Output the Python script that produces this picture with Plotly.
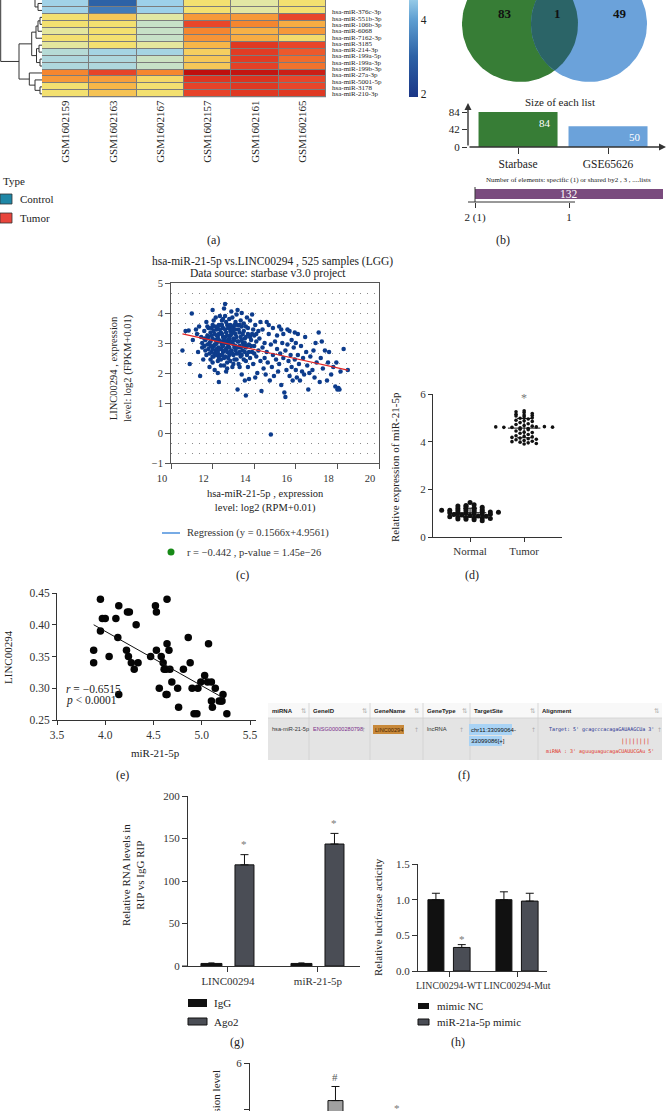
import numpy as np
import plotly.graph_objects as go

W, H = 670, 1111
SERIF = "Liberation Serif, Times New Roman, serif"
SANS = "Liberation Sans, Arial, sans-serif"
MONO = "DejaVu Sans Mono, monospace"
INK = "#222222"

# ======================= DATA =======================
# (a) heatmap
heat_samples = ["GSM1602159", "GSM1602163", "GSM1602167",
                "GSM1602157", "GSM1602161", "GSM1602165"]
heat_mirnas = ["hsa-miR-376c-3p", "hsa-miR-551b-3p", "hsa-miR-106b-3p",
               "hsa-miR-6068", "hsa-miR-7162-3p", "hsa-miR-3185",
               "hsa-miR-214-3p", "hsa-miR-199a-5p", "hsa-miR-199a-3p",
               "hsa-miR-199b-3p", "hsa-miR-27a-3p", "hsa-miR-5001-5p",
               "hsa-miR-3178", "hsa-miR-210-3p"]
heat_values = [
    [4.7, 3.0, 4.6, 7.0, 6.3, 7.0],
    [4.7, 3.4, 4.6, 7.0, 6.3, 7.0],
    [7.0, 7.6, 6.3, 8.6, 8.6, 10.0],
    [7.0, 7.0, 5.6, 10.0, 9.0, 8.2],
    [6.4, 7.0, 5.6, 9.0, 8.1, 8.6],
    [7.0, 7.0, 5.6, 8.7, 8.2, 7.1],
    [6.4, 7.0, 6.4, 8.0, 10.5, 10.0],
    [5.2, 4.8, 4.8, 7.4, 10.4, 9.7],
    [5.0, 5.0, 5.7, 7.6, 10.4, 9.4],
    [5.0, 5.0, 5.6, 7.6, 10.2, 9.3],
    [9.0, 10.1, 9.0, 11.9, 11.7, 11.4],
    [8.6, 8.5, 7.2, 10.6, 10.7, 10.0],
    [7.0, 8.0, 7.0, 10.1, 10.5, 10.0],
    [7.0, 7.7, 7.0, 10.1, 10.5, 10.5],
]
heat_scale_values = [1.9, 2.0, 3.0, 4.0, 4.6, 5.5, 6.3, 7.0, 8.0, 9.0, 10.0, 11.0, 12.0]
heat_scale_colors = ["#1a3686", "#1c3a8a", "#2d62a6", "#5f9fd2", "#9dd0ea", "#c3e0cc",
                     "#e2e7a4", "#f3e070", "#f7b648", "#f5862f", "#e8462a", "#d62c1c", "#bb0c0c"]
# row clustering: (child a, child b, merge height); leaves 0..13 = rows, 14 = cluster above view
dendro_merges = [
    (0, 1, 4), (2, 3, 2), (16, 4, 4), (17, 5, 6), (6, 7, 3), (8, 9, 2),
    (19, 20, 5.5), (18, 21, 10.3), (12, 13, 2), (11, 23, 7), (10, 24, 12.7),
    (22, 25, 23), (14, 15, 7), (27, 26, 41.3),
]
type_labels = ["Control", "Tumor"]
type_colors = ["#1f87a6", "#e8453c"]

# (b) venn
venn_sets = ["Starbase", "GSE65626"]
venn_counts = [83, 1, 49]          # only A, shared, only B
list_sizes = [84, 50]
shared_total = 132
shared_labels = ["2 (1)", "1"]

# (c) starbase scatter
c_pts = [
    (10.55, 2.75), (10.7, 3.4), (10.85, 3.42), (11.0, 3.98), (10.9, 2.3), (11.05, 3.1), (11.2, 3.45),
    (11.25, 3.3), (11.3, 2.7), (11.4, 1.9), (11.35, 3.55), (11.45, 3.2), (11.5, 2.85), (11.55, 2.45),
    (11.5, 3.0), (11.6, 3.4), (11.6, 2.9), (11.65, 3.1), (11.7, 2.6), (11.7, 3.7), (11.75, 3.25),
    (11.8, 2.8), (11.8, 3.5), (11.85, 3.0), (11.9, 2.45), (11.9, 3.35), (11.95, 2.7), (12.0, 3.15),
    (12.0, 3.6), (12.0, 4.1), (12.05, 2.9), (12.05, 2.55), (12.1, 3.3), (12.1, 2.1), (12.15, 2.75),
    (12.15, 3.85), (12.2, 3.0), (12.2, 3.45), (12.25, 2.4), (12.25, 3.2), (12.3, 1.7), (12.3, 2.85),
    (12.3, 3.6), (12.35, 2.6), (12.35, 3.05), (12.4, 3.35), (12.4, 2.25), (12.45, 3.75), (12.45, 2.95),
    (12.5, 2.7), (12.5, 3.2), (12.5, 3.5), (12.55, 4.15), (12.6, 4.3), (12.55, 2.5), (12.6, 3.0),
    (12.6, 3.9), (12.65, 2.8), (12.65, 3.35), (12.7, 3.6), (12.7, 2.35), (12.75, 3.1), (12.75, 2.95),
    (12.8, 3.8), (12.8, 2.6), (12.85, 3.4), (12.85, 3.25), (12.9, 2.75), (12.9, 4.05), (12.95, 3.0),
    (12.95, 2.2), (13.0, 3.55), (13.0, 3.15), (13.05, 2.45), (13.05, 2.85), (13.1, 3.7), (13.1, 3.3),
    (13.15, 2.65), (13.15, 3.95), (13.2, 1.45), (13.2, 3.05), (13.2, 4.1), (13.25, 2.3), (13.25, 3.45),
    (13.3, 2.9), (13.3, 3.6), (13.35, 2.55), (13.35, 3.2), (13.4, 4.0), (13.4, 1.95), (13.45, 3.0),
    (13.45, 2.75), (13.5, 3.4), (13.5, 2.45), (13.55, 1.75), (13.55, 3.15), (13.6, 1.25), (13.6, 2.85),
    (13.6, 3.55), (13.65, 2.6), (13.7, 3.3), (13.7, 2.2), (13.75, 1.8), (13.75, 2.95), (13.8, 3.75),
    (13.8, 2.5), (13.85, 3.1), (13.9, 3.95), (13.9, 2.7), (13.95, 3.45), (13.95, 2.3), (14.0, 2.9),
    (14.0, 3.25), (14.05, 1.85), (14.05, 3.6), (14.1, 2.55), (14.1, 3.05), (14.15, 2.0), (14.2, 2.75),
    (14.2, 3.4), (11.9, 3.05), (12.1, 2.95), (12.2, 2.6), (12.4, 2.8), (12.6, 3.2), (12.9, 3.5),
    (13.0, 2.6), (12.3, 3.3), (12.0, 2.35), (11.75, 2.95), (12.5, 3.05), (12.7, 2.85), (13.3, 2.7),
    (13.1, 2.9), (12.85, 2.4), (12.45, 3.6), (12.15, 3.1), (11.95, 3.5), (12.35, 3.9), (12.8, 3.0),
    (13.55, 3.0), (13.8, 3.2), (12.05, 3.75), (12.55, 2.25), (13.4, 3.55), (12.25, 2.0), (11.85, 2.2),
    (13.65, 3.85), (12.95, 3.85), (12.65, 2.05), (11.65, 2.75), (11.7, 3.15), (11.8, 3.2), (11.85, 2.65),
    (11.9, 2.9), (11.95, 3.25), (12.0, 2.8), (12.05, 3.4), (12.1, 2.65), (12.1, 3.55), (12.15, 2.95),
    (12.2, 3.25), (12.2, 2.8), (12.25, 3.55), (12.25, 2.7), (12.3, 3.1), (12.3, 2.5), (12.35, 3.45),
    (12.35, 2.8), (12.4, 3.05), (12.4, 3.6), (12.45, 2.6), (12.45, 3.3), (12.5, 2.9), (12.5, 3.8),
    (12.55, 3.15), (12.55, 2.75), (12.6, 3.45), (12.6, 2.55), (12.65, 3.05), (12.65, 3.7), (12.7, 2.7),
    (12.7, 3.25), (12.75, 3.5), (12.75, 2.5), (12.8, 3.15), (12.8, 2.85), (12.85, 3.6), (12.85, 2.7),
    (12.9, 3.05), (12.9, 3.3), (12.95, 2.65), (12.95, 3.45), (13.0, 2.95), (13.0, 3.35), (13.05, 3.6),
    (13.05, 3.1), (13.1, 2.75), (13.1, 3.45), (13.15, 3.2), (13.15, 2.45), (13.2, 2.85), (13.2, 3.6),
    (13.25, 3.05), (13.25, 2.65), (13.3, 3.35), (13.35, 2.85), (13.35, 3.75), (13.4, 3.1), (13.4, 2.6),
    (13.45, 3.3), (13.5, 2.9), (13.5, 3.65), (13.55, 2.7), (13.6, 3.2), (13.65, 2.9), (13.7, 3.5),
    (13.75, 2.7), (13.85, 2.9), (13.9, 3.3), (14.0, 2.65), (14.1, 3.3), (11.75, 3.55), (11.6, 3.15),
    (12.0, 2.55), (12.4, 2.45), (12.7, 2.15), (13.0, 2.3), (13.3, 2.2), (13.6, 2.4),
    (14.25, 3.15), (14.3, 2.4), (14.3, 3.7), (14.35, 1.4), (14.4, 2.85), (14.45, 2.15), (14.5, 3.0),
    (14.5, 2.5), (14.55, 1.95), (14.6, 3.7), (14.6, 2.7), (14.65, 2.35), (14.7, 3.3), (14.75, 1.75),
    (14.8, 2.95), (14.8, -0.05), (14.85, 2.2), (14.9, 3.5), (14.9, 2.6), (14.95, 1.9), (15.0, 3.05),
    (15.05, 2.45), (15.1, 3.25), (15.1, 2.8), (15.15, 2.05), (15.2, 3.55), (15.2, 2.3), (15.25, 2.65),
    (15.3, 1.6), (15.35, 3.0), (15.4, 2.5), (15.4, 3.3), (15.45, 1.35), (15.5, 1.2), (15.5, 2.75),
    (15.55, 2.1), (15.6, 3.45), (15.6, 2.95), (15.65, 2.4), (15.7, 3.4), (15.7, 1.9), (15.75, 2.6),
    (15.8, 2.2), (15.8, 3.1), (15.85, 1.75), (15.9, 2.85), (15.95, 2.45), (16.0, 3.0), (16.0, 2.1),
    (16.05, 1.85), (16.1, 3.3), (16.1, 2.6), (16.15, 2.3), (16.2, 1.75), (16.25, 2.9), (16.3, 2.05),
    (16.35, 2.5), (16.4, 1.95), (16.5, 2.7), (16.55, 2.25), (16.6, 1.45), (16.65, 2.0), (16.7, 2.55),
    (16.8, 2.1), (16.85, 2.75), (16.9, 1.85), (17.0, 2.35), (17.1, 3.35), (17.15, 1.7), (17.2, 2.5),
    (17.25, 3.05), (17.3, 2.15), (17.4, 2.75), (17.5, 1.75), (17.55, 2.35), (17.6, 2.7), (17.8, 2.2),
    (17.9, 1.55), (17.95, 2.35), (18.0, 1.45), (18.05, 1.5), (18.1, 1.45), (18.15, 2.05), (18.3, 2.8),
    (18.5, 2.1), (17.7, 1.95), (16.95, 3.0), (16.45, 3.2), (15.95, 3.35), (14.7, 3.6), (14.4, 3.45),
    (15.3, 3.45),
]
c_x = [p[0] for p in c_pts]
c_y = [p[1] for p in c_pts]
c_line_slope = -0.152        # red fit line as drawn
c_line_intercept = 4.91
c_title = ["hsa-miR-21-5p vs.LINC00294 , 525 samples (LGG)", "Data source: starbase v3.0 project"]
c_legend = ["Regression (y = 0.1566x+4.9561)", "r = \u22120.442 , p-value = 1.45e\u221226"]

# (d) relative expression
d_groups = ["Normal", "Tumor"]
d_normal = [1.45, 1.32, 1.30, 1.28, 1.22, 1.20, 1.18, 1.15, 1.14, 1.12, 1.12, 1.10, 1.10, 1.08,
            1.07, 1.05, 1.04, 1.02, 1.01, 1.00, 0.98, 0.97, 0.95, 0.94, 0.92, 0.90, 0.88, 0.87,
            0.85, 0.84, 0.82, 0.80, 0.80, 0.78, 0.76, 0.74, 0.72, 0.68, 1.35, 1.25]
d_tumor = [5.30, 5.25, 5.22, 5.18, 5.15, 5.12, 5.10, 5.08, 5.05, 5.00, 4.98, 4.95, 4.90, 4.88,
           4.85, 4.80, 4.75, 4.72, 4.68, 4.65, 4.62, 4.60, 4.60, 4.58, 4.55, 4.52, 4.50, 4.45,
           4.40, 4.38, 4.35, 4.30, 4.25, 4.22, 4.20, 4.18, 4.15, 4.12, 4.10, 4.08, 4.05, 4.02,
           4.00, 3.98, 3.95, 3.92, 3.90, 4.62, 4.63, 4.61]

# (e) correlation
e_pts = [
    (3.95, 0.44), (3.97, 0.41), (4.0, 0.41), (3.95, 0.39), (3.88, 0.36), (3.88, 0.34), (4.04, 0.35),
    (4.11, 0.41), (4.14, 0.43), (4.13, 0.38), (4.14, 0.29), (4.23, 0.42), (4.25, 0.42), (4.22, 0.36),
    (4.24, 0.35), (4.27, 0.34), (4.30, 0.33), (4.32, 0.40), (4.34, 0.34), (4.47, 0.35), (4.52, 0.43),
    (4.53, 0.42), (4.53, 0.36), (4.56, 0.30), (4.58, 0.35), (4.60, 0.34), (4.61, 0.33), (4.63, 0.33),
    (4.63, 0.29), (4.64, 0.29), (4.64, 0.44), (4.64, 0.37), (4.66, 0.36), (4.67, 0.33), (4.69, 0.31),
    (4.75, 0.30), (4.76, 0.27), (4.81, 0.33), (4.86, 0.38), (4.88, 0.34), (4.90, 0.30), (4.92, 0.26),
    (4.95, 0.26), (4.96, 0.30), (4.99, 0.31), (5.03, 0.32), (5.06, 0.31), (5.07, 0.37), (5.10, 0.31),
    (5.10, 0.28), (5.11, 0.27), (5.14, 0.30), (5.18, 0.28), (5.20, 0.28), (5.21, 0.28), (5.22, 0.29),
    (5.26, 0.26),
]
e_x = [p[0] for p in e_pts]
e_y = [p[1] for p in e_pts]
e_line_slope = -0.0858
e_line_intercept = 0.7329
e_line_x = [3.88, 5.22]
e_stats = ["<i>r</i> = \u22120.6515", "<i>p</i> &lt; 0.0001"]

# (f) table
table_cols = ["miRNA", "GeneID", "GeneName", "GeneType", "TargetSite", "Alignment"]
table_row = ["hsa-miR-21-5p", "ENSG00000280798", "LINC00294", "lncRNA",
             "chr11:33099064-", "33099086[+]"]
align_target = "Target: 5' gcagcccacagaGAUAAGCUa 3'"
align_pairs = "||||||||"
align_mirna = "miRNA : 3' aguuguagucagaCUAUUCGAu 5'"

# (g) RIP
g_cats = ["LINC00294", "miR-21-5p"]
g_igg = [3.0, 3.0]
g_igg_err = [0.6, 0.6]
g_ago2 = [119.0, 143.5]
g_ago2_err = [12.0, 12.5]
g_series = ["IgG", "Ago2"]

# (h) luciferase
h_cats = ["LINC00294-WT", "LINC00294-Mut"]
h_nc = [1.0, 1.0]
h_nc_err = [0.09, 0.11]
h_mimic = [0.33, 0.98]
h_mimic_err = [0.04, 0.11]
h_series = ["mimic NC", "miR-21a-5p mimic"]

# (i) partial panel
i_val = [4.4]
i_err = [0.6]

# ======================= HELPERS =======================
shapes, annots, axes = [], [], {}
TF = dict(family=SERIF, size=11, color="#333")


def xd(a, b):
    return [a / W, b / W]


def yd(top, bot):
    return [1 - bot / H, 1 - top / H]


def txt(x, y, s, size=11, color=INK, family=SERIF, xa="center", ya="middle", angle=0, **kw):
    a = dict(x=x / W, y=1 - y / H, xref="paper", yref="paper", text=s, showarrow=False,
             font=dict(size=size, color=color, family=family), xanchor=xa, yanchor=ya,
             textangle=angle, borderpad=0)
    a.update(kw)
    annots.append(a)


def rect(x0, y0, x1, y1, fill, lc=None, lw=0, layer="above"):
    shapes.append(dict(type="rect", xref="paper", yref="paper", x0=x0 / W, x1=x1 / W,
                       y0=1 - y0 / H, y1=1 - y1 / H, fillcolor=fill,
                       line=dict(width=lw, color=lc or fill), layer=layer))


def seg(x0, y0, x1, y1, color="#333", lw=1):
    shapes.append(dict(type="line", xref="paper", yref="paper", x0=x0 / W, x1=x1 / W,
                       y0=1 - y0 / H, y1=1 - y1 / H, line=dict(color=color, width=lw)))


def add_axes(n, xdom, ydom, xkw, ykw):
    xn = "xaxis" if n == 1 else f"xaxis{n}"
    yn = "yaxis" if n == 1 else f"yaxis{n}"
    base = dict(showgrid=False, zeroline=False, showline=False, ticks="",
                showticklabels=False, fixedrange=True, automargin=False)
    xa = dict(base, domain=xdom, anchor="y" if n == 1 else f"y{n}")
    xa.update(xkw)
    ya = dict(base, domain=ydom, anchor="x" if n == 1 else f"x{n}")
    ya.update(ykw)
    axes[xn] = xa
    axes[yn] = ya


LINEAX = dict(showline=True, linecolor="#333", linewidth=1, ticks="outside",
              tickcolor="#333", ticklen=5, showticklabels=True, tickfont=TF)

fig = go.Figure()

# ======================= (a) heatmap =======================
ZMIN, ZMAX = heat_scale_values[0], heat_scale_values[-1]
cscale = [[(v - ZMIN) / (ZMAX - ZMIN), c] for v, c in zip(heat_scale_values, heat_scale_colors)]
HEAT_BOTTOM = 97.3
fig.add_trace(go.Heatmap(
    z=heat_values, x=list(range(len(heat_samples))), y=list(range(len(heat_mirnas))),
    colorscale=cscale, zmin=ZMIN, zmax=ZMAX, xgap=1, ygap=1, hoverinfo="skip",
    colorbar=dict(x=409 / W, xanchor="left", y=1 - HEAT_BOTTOM / H, yanchor="bottom",
                  lenmode="pixels", len=(ZMAX - ZMIN) * 37, thickness=9, thicknessmode="pixels",
                  outlinewidth=0, xpad=0, ypad=0, ticks="", tickvals=[2, 4, 6, 8, 10, 12],
                  tickfont=dict(family=SERIF, size=11.5, color=INK)),
    xaxis="x", yaxis="y"))
add_axes(1, xd(42, 326), yd(0, HEAT_BOTTOM),
         dict(range=[-0.5, 5.5], showticklabels=True, tickvals=list(range(6)), ticktext=heat_samples,
              tickangle=-90, tickfont=dict(family=SERIF, size=11, color=INK)),
         dict(range=[13.5, -0.5]))
shapes.append(dict(type="rect", xref="x domain", yref="y domain", x0=0, x1=1, y0=0, y1=1,
                   fillcolor="#7c7c7c", line=dict(width=0), layer="below"))
for i, name in enumerate(heat_mirnas):
    txt(331, 12.3 + i * 6.31, name, size=7, xa="left")

# dendrogram
pos = {i: float(i) for i in range(14)}
pos[14] = -4.0
hgt = {i: 0.0 for i in pos}
dx, dy = [], []
for k, (a, b, h) in enumerate(dendro_merges):
    nid = 15 + k
    dx += [hgt[a], h, h, hgt[b], None]
    dy += [pos[a], pos[a], pos[b], pos[b], None]
    pos[nid] = (pos[a] + pos[b]) / 2
    hgt[nid] = h
fig.add_trace(go.Scatter(x=dx, y=dy, mode="lines", line=dict(color="#333", width=1),
                         hoverinfo="skip", xaxis="x2", yaxis="y2"))
add_axes(2, xd(0, 42), yd(0, HEAT_BOTTOM), dict(range=[42, 0]), dict(range=[13.5, -0.5]))

# type legend
txt(2, 181, "Type", xa="left")
for j, (lab, col) in enumerate(zip(type_labels, type_colors)):
    yy = 199 + j * 19
    rect(0, yy - 5, 12, yy + 5, col, "#333", 0.8)
    txt(19, yy, lab, xa="left")
txt(213, 240, "(a)", size=12)

# ======================= (b) venn =======================
add_axes(3, xd(440, 670), yd(0, 100), dict(range=[440, 670]), dict(range=[100, 0]))
venn_r = 58
venn_c = [(520, 24), (589, 24)]
venn_cols = ["#377d36", "#6ba2da"]
for (cx, cy), col in zip(venn_c, venn_cols):
    t = np.linspace(0, 2 * np.pi, 120)
    fig.add_trace(go.Scatter(x=cx + venn_r * np.cos(t), y=cy + venn_r * np.sin(t), fill="toself",
                             fillcolor=col, mode="lines", line=dict(width=0), hoverinfo="skip",
                             xaxis="x3", yaxis="y3"))
d_c = venn_c[1][0] - venn_c[0][0]
th = np.arccos((d_c / 2) / venn_r)
t1 = np.linspace(-th, th, 40)
t2 = np.linspace(np.pi - th, np.pi + th, 40)
lens_x = np.concatenate([venn_c[0][0] + venn_r * np.cos(t1), venn_c[1][0] + venn_r * np.cos(t2)])
lens_y = np.concatenate([venn_c[0][1] + venn_r * np.sin(t1), venn_c[1][1] + venn_r * np.sin(t2)])
fig.add_trace(go.Scatter(x=lens_x, y=lens_y, fill="toself", fillcolor="#2b6467", mode="lines",
                         line=dict(width=0), hoverinfo="skip", xaxis="x3", yaxis="y3"))
for xv, cnt in zip([505, 557, 620], venn_counts):
    annots.append(dict(x=xv, y=13, xref="x3", yref="y3", text=f"<b>{cnt}</b>", showarrow=False,
                       font=dict(family=SERIF, size=13, color="#111")))

# size of each list
txt(560, 102, "Size of each list", size=11)
fig.add_trace(go.Bar(x=[0, 1], y=list_sizes, width=0.878, marker=dict(color=venn_cols, line=dict(width=0)),
                     hoverinfo="skip", xaxis="x4", yaxis="y4"))
add_axes(4, xd(468, 663), yd(103, 147),
         dict(range=[-0.556, 1.611], tickvals=[0, 1], ticktext=venn_sets, ticks="outside", ticklen=6,
              tickcolor="#333", showticklabels=True, tickfont=dict(family=SERIF, size=11.5, color=INK)),
         dict(range=[0, 105.6], tickvals=[0, max(list_sizes) / 2, max(list_sizes)], ticks="outside",
              ticklen=5, tickcolor="#333", showticklabels=True,
              tickfont=dict(family=SERIF, size=11, color=INK)))
for k, v in enumerate(list_sizes):
    annots.append(dict(x=k + 0.439, y=v, xref="x4", yref="y4", text=str(v), showarrow=False,
                       xanchor="right", yanchor="top", xshift=-5, yshift=-3,
                       font=dict(family=SERIF, size=11, color="white")))
annots.append(dict(x=468 / W, y=1 - 103 / H, xref="paper", yref="paper", ax=0, ay=44,
                   axref="pixel", ayref="pixel", showarrow=True, arrowhead=2, arrowsize=1,
                   arrowwidth=1.4, arrowcolor="#333", text=""))
annots.append(dict(x=666 / W, y=1 - 147 / H, xref="paper", yref="paper", ax=-198, ay=0,
                   axref="pixel", ayref="pixel", showarrow=True, arrowhead=2, arrowsize=1,
                   arrowwidth=1.4, arrowcolor="#333", text=""))

# shared-by bar
txt(568, 180, "Number of elements: specific (1) or shared by2 , 3 , ....lists", size=7)
fig.add_trace(go.Bar(x=[shared_total], y=[0], base=0, orientation="h", width=1.0,
                     marker=dict(color="#7a4b7e", line=dict(width=0)),
                     hoverinfo="skip", xaxis="x5", yaxis="y5"))
annots.append(dict(x=shared_total / 2, y=0, xref="x5", yref="y5", text=str(shared_total),
                   showarrow=False, font=dict(family=SERIF, size=11.5, color="white")))
add_axes(5, xd(468, 663), yd(187, 202),
         dict(range=[-4.92, shared_total], tickvals=[0, shared_total / 2], ticktext=shared_labels,
              ticks="outside", ticklen=5, tickcolor="#333", showticklabels=True,
              tickfont=dict(family=SERIF, size=11, color=INK)),
         dict(range=[-0.8, 0.7]))
seg(468, 202, 575, 202)
seg(475, 187, 475, 202)
txt(503, 240, "(b)", size=12)

# ======================= (c) scatter =======================
fig.add_trace(go.Scatter(x=c_x, y=c_y, mode="markers",
                         marker=dict(size=4.5, color="#0d3c8c", line=dict(width=0)),
                         hoverinfo="skip", xaxis="x6", yaxis="y6"))
cx_line = [min(c_x), max(c_x)]
fig.add_trace(go.Scatter(x=cx_line, y=[c_line_slope * v + c_line_intercept for v in cx_line],
                         mode="lines", line=dict(color="#e02424", width=1.2),
                         hoverinfo="skip", xaxis="x6", yaxis="y6"))
DOT = dict(gridcolor="#8a8a8a", griddash="1px,6px", gridwidth=1)
add_axes(6, xd(171, 379), yd(283, 463),
         dict(range=[10, 20], tick0=10, dtick=2, showline=True, mirror=True, linecolor="#555",
              linewidth=1, ticks="outside", ticklen=5, tickcolor="#555", showticklabels=True,
              tickfont=dict(family=SERIF, size=10.5, color="#333"), ticklabelshift=-9),
         dict(range=[-1, 5], tick0=-1, dtick=1, showline=True, mirror=True, linecolor="#555",
              linewidth=1, ticks="outside", ticklen=5, tickcolor="#555", showticklabels=True,
              tickfont=dict(family=SERIF, size=10.5, color="#333"), showgrid=True, **DOT,
              minor=dict(dtick=1 / 3, showgrid=True, **DOT)))
txt(272, 261, c_title[0], size=11.5)
txt(268, 274, c_title[1], size=11.5)
txt(121, 368, "LINC00294 , expression<br>level: log2 (FPKM+0.01)", size=10.5, angle=-90)
txt(265, 501, "hsa-miR-21-5p , expression<br>level: log2 (RPM+0.01)", size=10.5)
seg(162, 533, 180, 533, color="#4a8fdc", lw=1.5)
txt(186, 533, c_legend[0], size=10.5, xa="left", color="#333")
shapes.append(dict(type="circle", xref="paper", yref="paper", x0=167.5 / W, x1=174.5 / W,
                   y0=1 - 555.5 / H, y1=1 - 548.5 / H, fillcolor="#178a17", line=dict(width=0)))
txt(186, 552, c_legend[1], size=10.5, xa="left", color="#333")
txt(242, 575, "(c)", size=12)

# ======================= (d) dot plot =======================


def swarm(vals, step, binw):
    vals = np.asarray(vals, dtype=float)
    bins = np.round(vals / binw).astype(int)
    off = np.zeros(len(vals))
    for b in np.unique(bins):
        idx = np.where(bins == b)[0]
        off[idx] = (np.arange(len(idx)) - (len(idx) - 1) / 2) * step
    return off


for gi, (vals, ms, step) in enumerate([(d_normal, 5, 0.15), (d_tumor, 3.6, 0.15)]):
    xs = gi + swarm(vals, step, 0.09)
    fig.add_trace(go.Scatter(x=xs, y=vals, mode="markers", marker=dict(size=ms, color="#111"),
                             hoverinfo="skip", xaxis="x7", yaxis="y7"))
    m, s = float(np.mean(vals)), float(np.std(vals))
    lx = [gi - 0.3, gi + 0.3, None, gi, gi, None, gi - 0.13, gi + 0.13, None, gi - 0.13, gi + 0.13]
    ly = [m, m, None, m - s, m + s, None, m - s, m - s, None, m + s, m + s]
    fig.add_trace(go.Scatter(x=lx, y=ly, mode="lines", line=dict(color="#111", width=1),
                             hoverinfo="skip", xaxis="x7", yaxis="y7"))
annots.append(dict(x=1, y=max(d_tumor) + 0.55, xref="x7", yref="y7", text="*", showarrow=False,
                   font=dict(family=SERIF, size=12, color="#777")))
add_axes(7, xd(433, 562), yd(394, 537),
         dict(LINEAX, range=[-0.685, 1.70], tickvals=[0, 1], ticktext=d_groups, ticklen=4),
         dict(LINEAX, range=[0, 6], tickvals=[0, 2, 4, 6], ticklen=4))
txt(395, 467, "Relative expression of miR-21-5p", angle=-90)
txt(472, 575, "(d)", size=12)

# ======================= (e) correlation =======================
fig.add_trace(go.Scatter(x=e_x, y=e_y, mode="markers", marker=dict(size=7.5, color="#050505"),
                         hoverinfo="skip", xaxis="x8", yaxis="y8"))
fig.add_trace(go.Scatter(x=e_line_x, y=[e_line_slope * v + e_line_intercept for v in e_line_x],
                         mode="lines", line=dict(color="#111", width=1),
                         hoverinfo="skip", xaxis="x8", yaxis="y8"))
add_axes(8, xd(57, 256), yd(593, 720),
         dict(LINEAX, range=[3.5, 5.562], tickvals=[3.5, 4.0, 4.5, 5.0, 5.5], tickformat=".1f",
              ticklen=4, tickfont=dict(family=SERIF, size=11.5, color="#333")),
         dict(LINEAX, range=[0.25, 0.45], tickvals=[0.25, 0.30, 0.35, 0.40, 0.45], tickformat=".2f",
              ticklen=4, tickfont=dict(family=SERIF, size=11.5, color="#333")))
txt(65, 689, e_stats[0], xa="left", size=11.5)
txt(65, 700, e_stats[1], xa="left", size=11.5)
txt(155, 753, "miR-21-5p")
txt(8, 657, "LINC00294", angle=-90)
txt(122, 775, "(e)", size=12)

# ======================= (f) table =======================
rect(268, 703, 662, 718, "#f8f8f8")
rect(268, 718, 662, 760, "#e4e4e4")
seg(268, 718, 662, 718, color="#cfcfcf", lw=0.8)
for xb in [309, 370, 423, 470, 538]:
    seg(xb, 703, xb, 760, color="#cfcfcf", lw=0.8)
for lab, xl, xarr in zip(table_cols, [271, 312, 373, 426, 473, 541], [304, 365, 417, 465, 533, 657]):
    txt(xl, 710.5, f"<b>{lab}</b>", size=6, family=SANS, xa="left", color="#222")
    txt(xarr, 710.5, "\u21c5", size=6.5, family="DejaVu Sans", color="#b0b0b0")
txt(271, 729, table_row[0], size=5.6, family=SANS, xa="left", color="#333")
txt(312, 729, table_row[1], size=5.6, family=SANS, xa="left", color="#7b2d8b")
rect(373, 725, 404, 734, "#c8893a")
txt(388.5, 729.5, table_row[2], size=5.6, family=SANS, color="#4a2600")
txt(426, 729, table_row[3], size=5.8, family=SANS, xa="left", color="#333")
rect(469, 724, 512, 735, "#a9d3f5")
rect(469, 736, 502, 746, "#a9d3f5")
txt(470, 729.5, table_row[4], size=6, family=SANS, xa="left", color="#111")
txt(470, 741, table_row[5], size=6, family=SANS, xa="left", color="#111")
for xarr in [364, 416, 461, 533, 659]:
    txt(xarr, 729, "\u2191", size=6, family="DejaVu Sans", color="#aaaaaa")
txt(655, 729, align_target, size=5, family=MONO, xa="right", color="#1a2a8c")
txt(635, 741, align_pairs, size=6, family=MONO, color="#e0301a")
txt(655, 752, align_mirna, size=5, family=MONO, xa="right", color="#e0301a")
txt(464, 775, "(f)", size=12)

# ======================= (g) RIP bars =======================
fig.add_trace(go.Bar(x=[0, 1], y=g_igg, offset=-0.30, width=0.233, name=g_series[0],
                     marker=dict(color="#111111", line=dict(color="#111", width=1)),
                     error_y=dict(type="data", array=g_igg_err, arrayminus=[0, 0], symmetric=False,
                                  color="#111", thickness=1, width=3),
                     hoverinfo="skip", xaxis="x9", yaxis="y9"))
fig.add_trace(go.Bar(x=[0, 1], y=g_ago2, offset=0.078, width=0.211, name=g_series[1],
                     marker=dict(color="#4a4d55", line=dict(color="#111", width=1)),
                     error_y=dict(type="data", array=g_ago2_err, arrayminus=[0, 0], symmetric=False,
                                  color="#111", thickness=1, width=4),
                     hoverinfo="skip", xaxis="x9", yaxis="y9"))
for k in range(2):
    annots.append(dict(x=k + 0.078 + 0.1055, y=g_ago2[k] + g_ago2_err[k] + 12, xref="x9", yref="y9",
                       text="*", showarrow=False, font=dict(family=SERIF, size=11, color="#777")))
add_axes(9, xd(188, 360), yd(796, 966),
         dict(LINEAX, range=[-0.444, 1.467], tickvals=[0, 1], ticktext=g_cats),
         dict(LINEAX, range=[0, 200], tickvals=[0, 50, 100, 150, 200]))
seg(182, 966, 188, 966)
txt(133, 875, "Relative RNA levels in<br>RIP vs IgG RIP", angle=-90)
rect(188, 999, 207, 1007, "#111111")
txt(213, 1003, g_series[0], xa="left")
rect(188, 1018, 207, 1025, "#4a4d55", "#111", 1)
txt(213, 1022, g_series[1], xa="left")
txt(237, 1042, "(g)", size=12)

# ======================= (h) luciferase =======================
fig.add_trace(go.Bar(x=[0, 1], y=h_nc, offset=-0.31, width=0.235, name=h_series[0],
                     marker=dict(color="#111111", line=dict(color="#111", width=1)),
                     error_y=dict(type="data", array=h_nc_err, arrayminus=[0, 0], symmetric=False,
                                  color="#111", thickness=1, width=4),
                     hoverinfo="skip", xaxis="x10", yaxis="y10"))
fig.add_trace(go.Bar(x=[0, 1], y=h_mimic, offset=0.065, width=0.245, name=h_series[1],
                     marker=dict(color="#4a4d55", line=dict(color="#111", width=1)),
                     error_y=dict(type="data", array=h_mimic_err, arrayminus=[0, 0], symmetric=False,
                                  color="#111", thickness=1, width=4),
                     hoverinfo="skip", xaxis="x10", yaxis="y10"))
annots.append(dict(x=0.065 + 0.1225, y=h_mimic[0] + h_mimic_err[0] + 0.08, xref="x10", yref="y10",
                   text="*", showarrow=False, font=dict(family=SERIF, size=11, color="#777")))
add_axes(10, xd(418, 547), yd(864, 971),
         dict(LINEAX, range=[-0.456, 1.441], tickvals=[0, 1], ticktext=h_cats, tickangle=0,
              tickfont=dict(family=SERIF, size=9.8, color="#333")),
         dict(LINEAX, range=[0, 1.5], tickvals=[0, 0.5, 1.0, 1.5], tickformat=".1f"))
txt(378, 917, "Relative luciferase acticity", angle=-90)
rect(418, 1003, 429, 1009, "#111111")
txt(436, 1006, h_series[0], xa="left")
rect(418, 1019, 429, 1025, "#4a4d55", "#111", 1)
txt(436, 1022, h_series[1], xa="left")
txt(458, 1042, "(h)", size=12)

# ======================= (i) partial panel =======================
fig.add_trace(go.Bar(x=[1], y=i_val, width=0.244,
                     marker=dict(color="#a0a0a0", line=dict(color="#111", width=1)),
                     error_y=dict(type="data", array=i_err, arrayminus=[0], symmetric=False,
                                  color="#111", thickness=1, width=4),
                     hoverinfo="skip", xaxis="x11", yaxis="y11"))
annots.append(dict(x=1, y=i_val[0] + i_err[0] + 0.4, xref="x11", yref="y11", text="#",
                   showarrow=False, font=dict(family=SERIF, size=11, color="#555")))
annots.append(dict(x=2, y=4.08, xref="x11", yref="y11", text="*",
                   showarrow=False, font=dict(family=SERIF, size=11, color="#777")))
add_axes(11, xd(250, 480), yd(1063, 1111),
         dict(range=[-0.39, 3.35]),
         dict(LINEAX, range=[3.957, 6], tickvals=[4, 6]))
txt(215, 1069, "Relative LINC00294 expression level", angle=-90, ya="top")

# ======================= LAYOUT =======================
fig.update_layout(width=W, height=H, margin=dict(l=0, r=0, t=0, b=0, autoexpand=False),
                  paper_bgcolor="white", plot_bgcolor="white", showlegend=False,
                  font=dict(family=SERIF, color=INK), shapes=shapes, annotations=annots, **axes)
fig.write_html("out.html", config={"displayModeBar": False, "staticPlot": True},
               post_script="document.body.style.margin='0';")
